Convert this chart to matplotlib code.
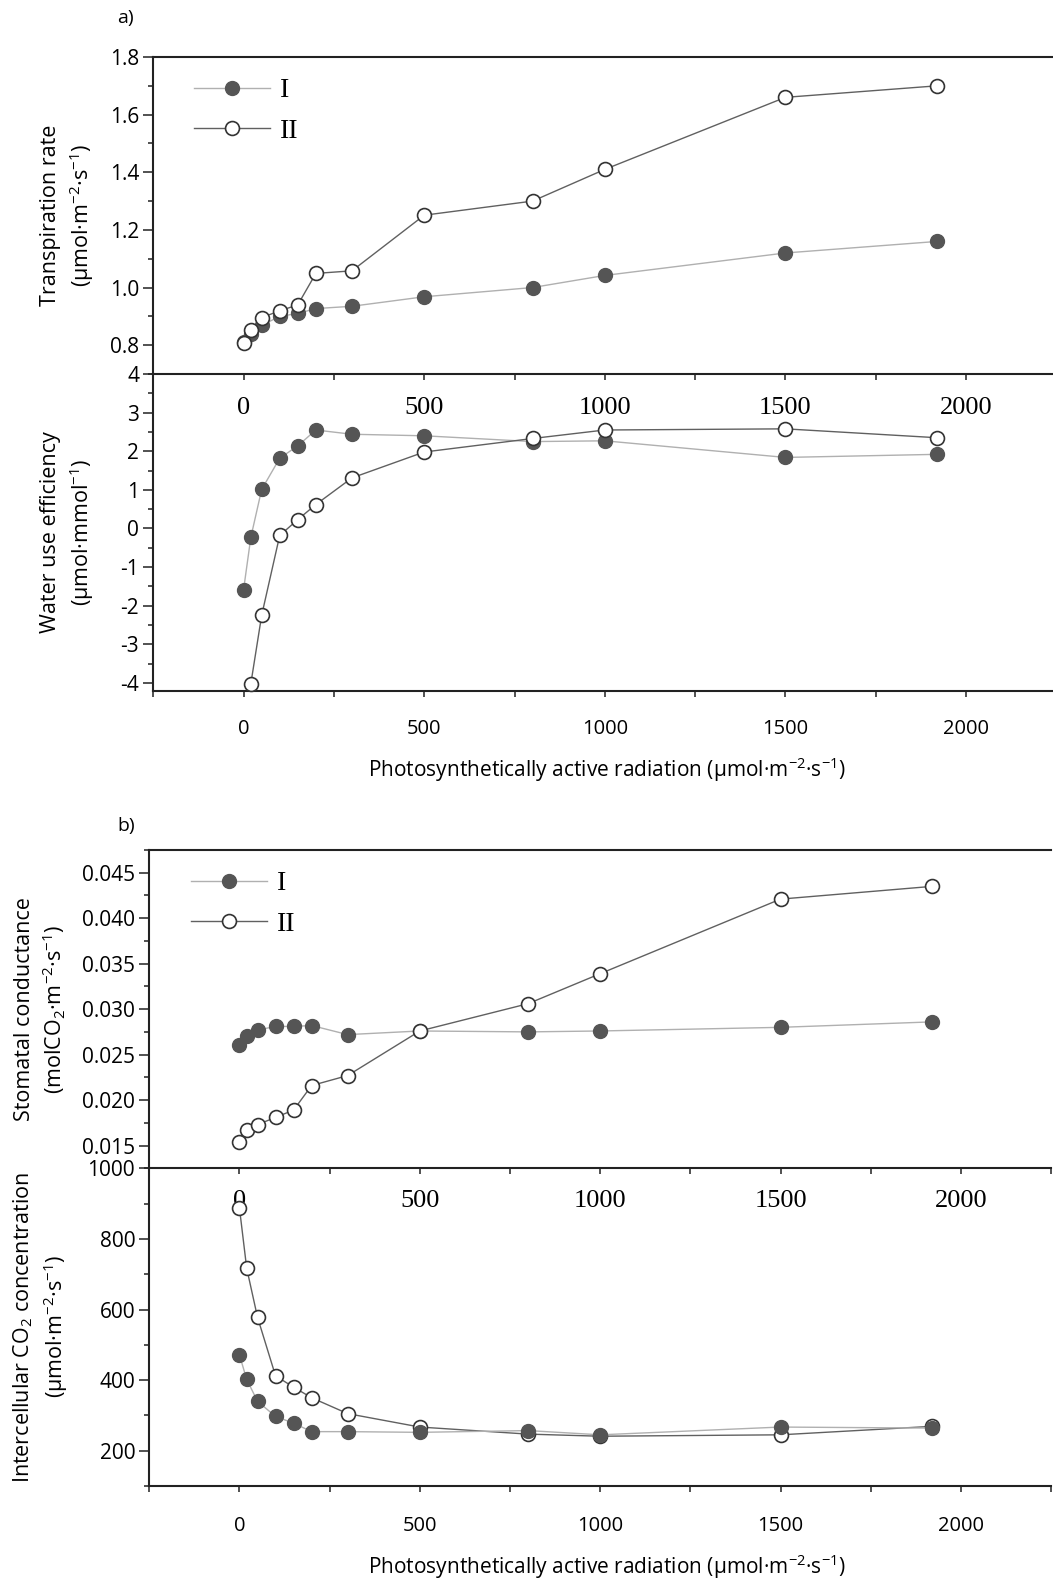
import numpy as np
import matplotlib
matplotlib.use("Agg")
import matplotlib.pyplot as plt
from matplotlib.ticker import MultipleLocator, FormatStrFormatter, FuncFormatter

plt.rcParams['font.family'] = ['Open Sans', 'DejaVu Sans']
plt.rcParams['mathtext.fontset'] = 'custom'
plt.rcParams['mathtext.rm'] = 'Open Sans'
plt.rcParams['mathtext.it'] = 'Open Sans:italic'
plt.rcParams['mathtext.bf'] = 'Open Sans:bold'
plt.rcParams['axes.unicode_minus'] = False

# ---------------- data ----------------
par = [0, 20, 50, 100, 150, 200, 300, 500, 800, 1000, 1500, 1920]
tr_I = [0.81, 0.84, 0.869, 0.90, 0.91, 0.927, 0.935, 0.968, 1.00, 1.042, 1.12, 1.16]
tr_II = [0.808, 0.852, 0.896, 0.919, 0.94, 1.049, 1.058, 1.251, 1.30, 1.41, 1.66, 1.70]
wue_I = [-1.58, -0.23, 1.01, 1.82, 2.14, 2.55, 2.44, 2.40, 2.25, 2.27, 1.84, 1.92]
wue_II = [np.nan, -4.02, -2.25, -0.18, 0.23, 0.62, 1.31, 1.98, 2.33, 2.55, 2.58, 2.35]
gs_I = [0.0261, 0.0270, 0.0277, 0.0281, 0.0281, 0.0282, 0.0272, 0.0276, 0.0275, 0.0276, 0.0280, 0.0286]
gs_II = [0.0154, 0.0167, 0.0173, 0.0181, 0.0189, 0.0216, 0.0227, 0.0276, 0.0306, 0.0339, 0.0421, 0.0435]
ci_I = [471, 402, 340, 297, 278, 254, 254, 252, 257, 245, 267, 264]
ci_II = [887, 717, 578, 412, 380, 350, 305, 267, 247, 241, 245, 269]

series_names = ['I', 'II']
xlabel = r'Photosynthetically active radiation (μmol·m$^{-2}$·s$^{-1}$)'

W, H = 1053, 1580
fig = plt.figure(figsize=(W / 100, H / 100), dpi=100)

def fx(px):
    return px / W

def fy(py):
    return 1 - py / H

SPINE = '#222222'
FILL = '#555555'
EDGE = '#333333'
LC_I = '#b0b0b0'
LC_II = '#606060'
MS = 10

def make_ax(left_px, top_px, bot_px, width_px):
    ax = fig.add_axes([fx(left_px), fy(bot_px), width_px / W, (bot_px - top_px) / H])
    ax.patch.set_visible(False)
    ax.set_xlim(-250, 2250)
    ax.spines['right'].set_visible(False)
    for s in ['left', 'top', 'bottom']:
        ax.spines[s].set_color(SPINE)
        ax.spines[s].set_linewidth(1.5)
    ax.tick_params(axis='y', which='major', direction='out', length=7.2, width=1.1,
                   color=SPINE, labelsize=15, pad=3)
    ax.tick_params(axis='y', which='minor', direction='out', length=3.6, width=1.1, color=SPINE)
    ax.tick_params(axis='x', which='both', direction='out', length=4.5, width=1.1, color=SPINE)
    ax.xaxis.set_major_locator(MultipleLocator(500))
    ax.xaxis.set_minor_locator(MultipleLocator(250))
    return ax

def plot_pair(ax, yI, yII, I_on_top=False):
    zI, zII = (4, 3) if I_on_top else (3, 4)
    ax.plot(par, yI, '-', color=LC_I, lw=1.0, marker='o', ms=MS, mfc=FILL, mec=FILL,
            mew=1.0, zorder=zI, clip_on=False, label=series_names[0])
    ax.plot(par, yII, '-', color=LC_II, lw=1.0, marker='o', ms=MS, mfc='white', mec=EDGE,
            mew=1.2, zorder=zII, clip_on=False, label=series_names[1])

def upper_xaxis(ax, pad):
    ax.tick_params(axis='x', which='major', labelsize=19, pad=pad)
    for t in ax.get_xticklabels():
        t.set_family('Liberation Serif')
    ax.xaxis.set_major_formatter(FuncFormatter(lambda v, p: '%d' % v if 0 <= v <= 2000 else ''))

def lower_xaxis(ax, pad):
    ax.spines['top'].set_visible(False)
    ax.tick_params(axis='x', which='major', labelsize=14.5, pad=pad)
    ax.xaxis.set_major_formatter(FuncFormatter(lambda v, p: '%d' % v if 0 <= v <= 2000 else ''))

def legend(ax, x_px, y_px):
    ax.legend(loc='upper left', bbox_to_anchor=(fx(x_px), fy(y_px)), bbox_transform=fig.transFigure,
              frameon=False, numpoints=1, handlelength=2.74, handletextpad=0.35,
              labelspacing=0.55, borderpad=0, borderaxespad=0,
              prop={'family': 'Liberation Serif', 'size': 20})

# ---------------- panel a ----------------
a_left, a_w = 153.3, 903
a1 = make_ax(a_left, 57, 374, a_w)
plot_pair(a1, tr_I, tr_II)
a1.set_ylim(0.7, 1.8)
a1.yaxis.set_major_locator(MultipleLocator(0.2))
a1.yaxis.set_minor_locator(MultipleLocator(0.1))
a1.yaxis.set_major_formatter(FormatStrFormatter('%.1f'))
upper_xaxis(a1, 12)
legend(a1, 194, 78)

a2 = make_ax(a_left, 374, 690.7, a_w)
plot_pair(a2, wue_I, wue_II)
a2.set_ylim(-4.2, 4)
a2.yaxis.set_major_locator(MultipleLocator(1))
a2.yaxis.set_minor_locator(MultipleLocator(0.5))
a2.yaxis.set_major_formatter(FormatStrFormatter('%d'))
lower_xaxis(a2, 16)

fig.text(fx(68), fy(215.5), 'Transpiration rate\n' + r'(μmol·m$^{-2}$·s$^{-1}$)',
         rotation=90, ha='center', va='center', multialignment='center', fontsize=15.5,
         linespacing=1.3)
fig.text(fx(68), fy(532), 'Water use efficiency\n' + r'(μmol·mmol$^{-1}$)',
         rotation=90, ha='center', va='center', multialignment='center', fontsize=15.5,
         linespacing=1.3)
fig.text(fx(607), fy(770), xlabel, ha='center', va='center', fontsize=15)
fig.text(fx(117), fy(18), 'a)', ha='left', va='center', fontsize=14)

# ---------------- panel b ----------------
b_left, b_w = 149.3, 901.75
b1 = make_ax(b_left, 850, 1168.3, b_w)
plot_pair(b1, gs_I, gs_II)
b1.set_ylim(0.0125, 0.0475)
b1.yaxis.set_major_locator(MultipleLocator(0.005))
b1.yaxis.set_minor_locator(MultipleLocator(0.0025))
b1.yaxis.set_major_formatter(FormatStrFormatter('%.3f'))
upper_xaxis(b1, 11)
legend(b1, 190.7, 871)

b2 = make_ax(b_left, 1168.3, 1486, b_w)
plot_pair(b2, ci_I, ci_II, I_on_top=True)
b2.set_ylim(100, 1000)
b2.yaxis.set_major_locator(MultipleLocator(200))
b2.yaxis.set_minor_locator(MultipleLocator(100))
b2.yaxis.set_major_formatter(FormatStrFormatter('%d'))
lower_xaxis(b2, 17)

fig.text(fx(41), fy(1009), 'Stomatal conductance\n' + r'(molCO$_2$·m$^{-2}$·s$^{-1}$)',
         rotation=90, ha='center', va='center', multialignment='center', fontsize=15.5,
         linespacing=1.3)
fig.text(fx(41), fy(1327), r'Intercellular CO$_2$ concentration' + '\n' + r'(μmol·m$^{-2}$·s$^{-1}$)',
         rotation=90, ha='center', va='center', multialignment='center', fontsize=15.5,
         linespacing=1.3)
fig.text(fx(607), fy(1566.7), xlabel, ha='center', va='center', fontsize=15)
fig.text(fx(117), fy(826), 'b)', ha='left', va='center', fontsize=14)

fig.savefig('out.png', dpi=100)
